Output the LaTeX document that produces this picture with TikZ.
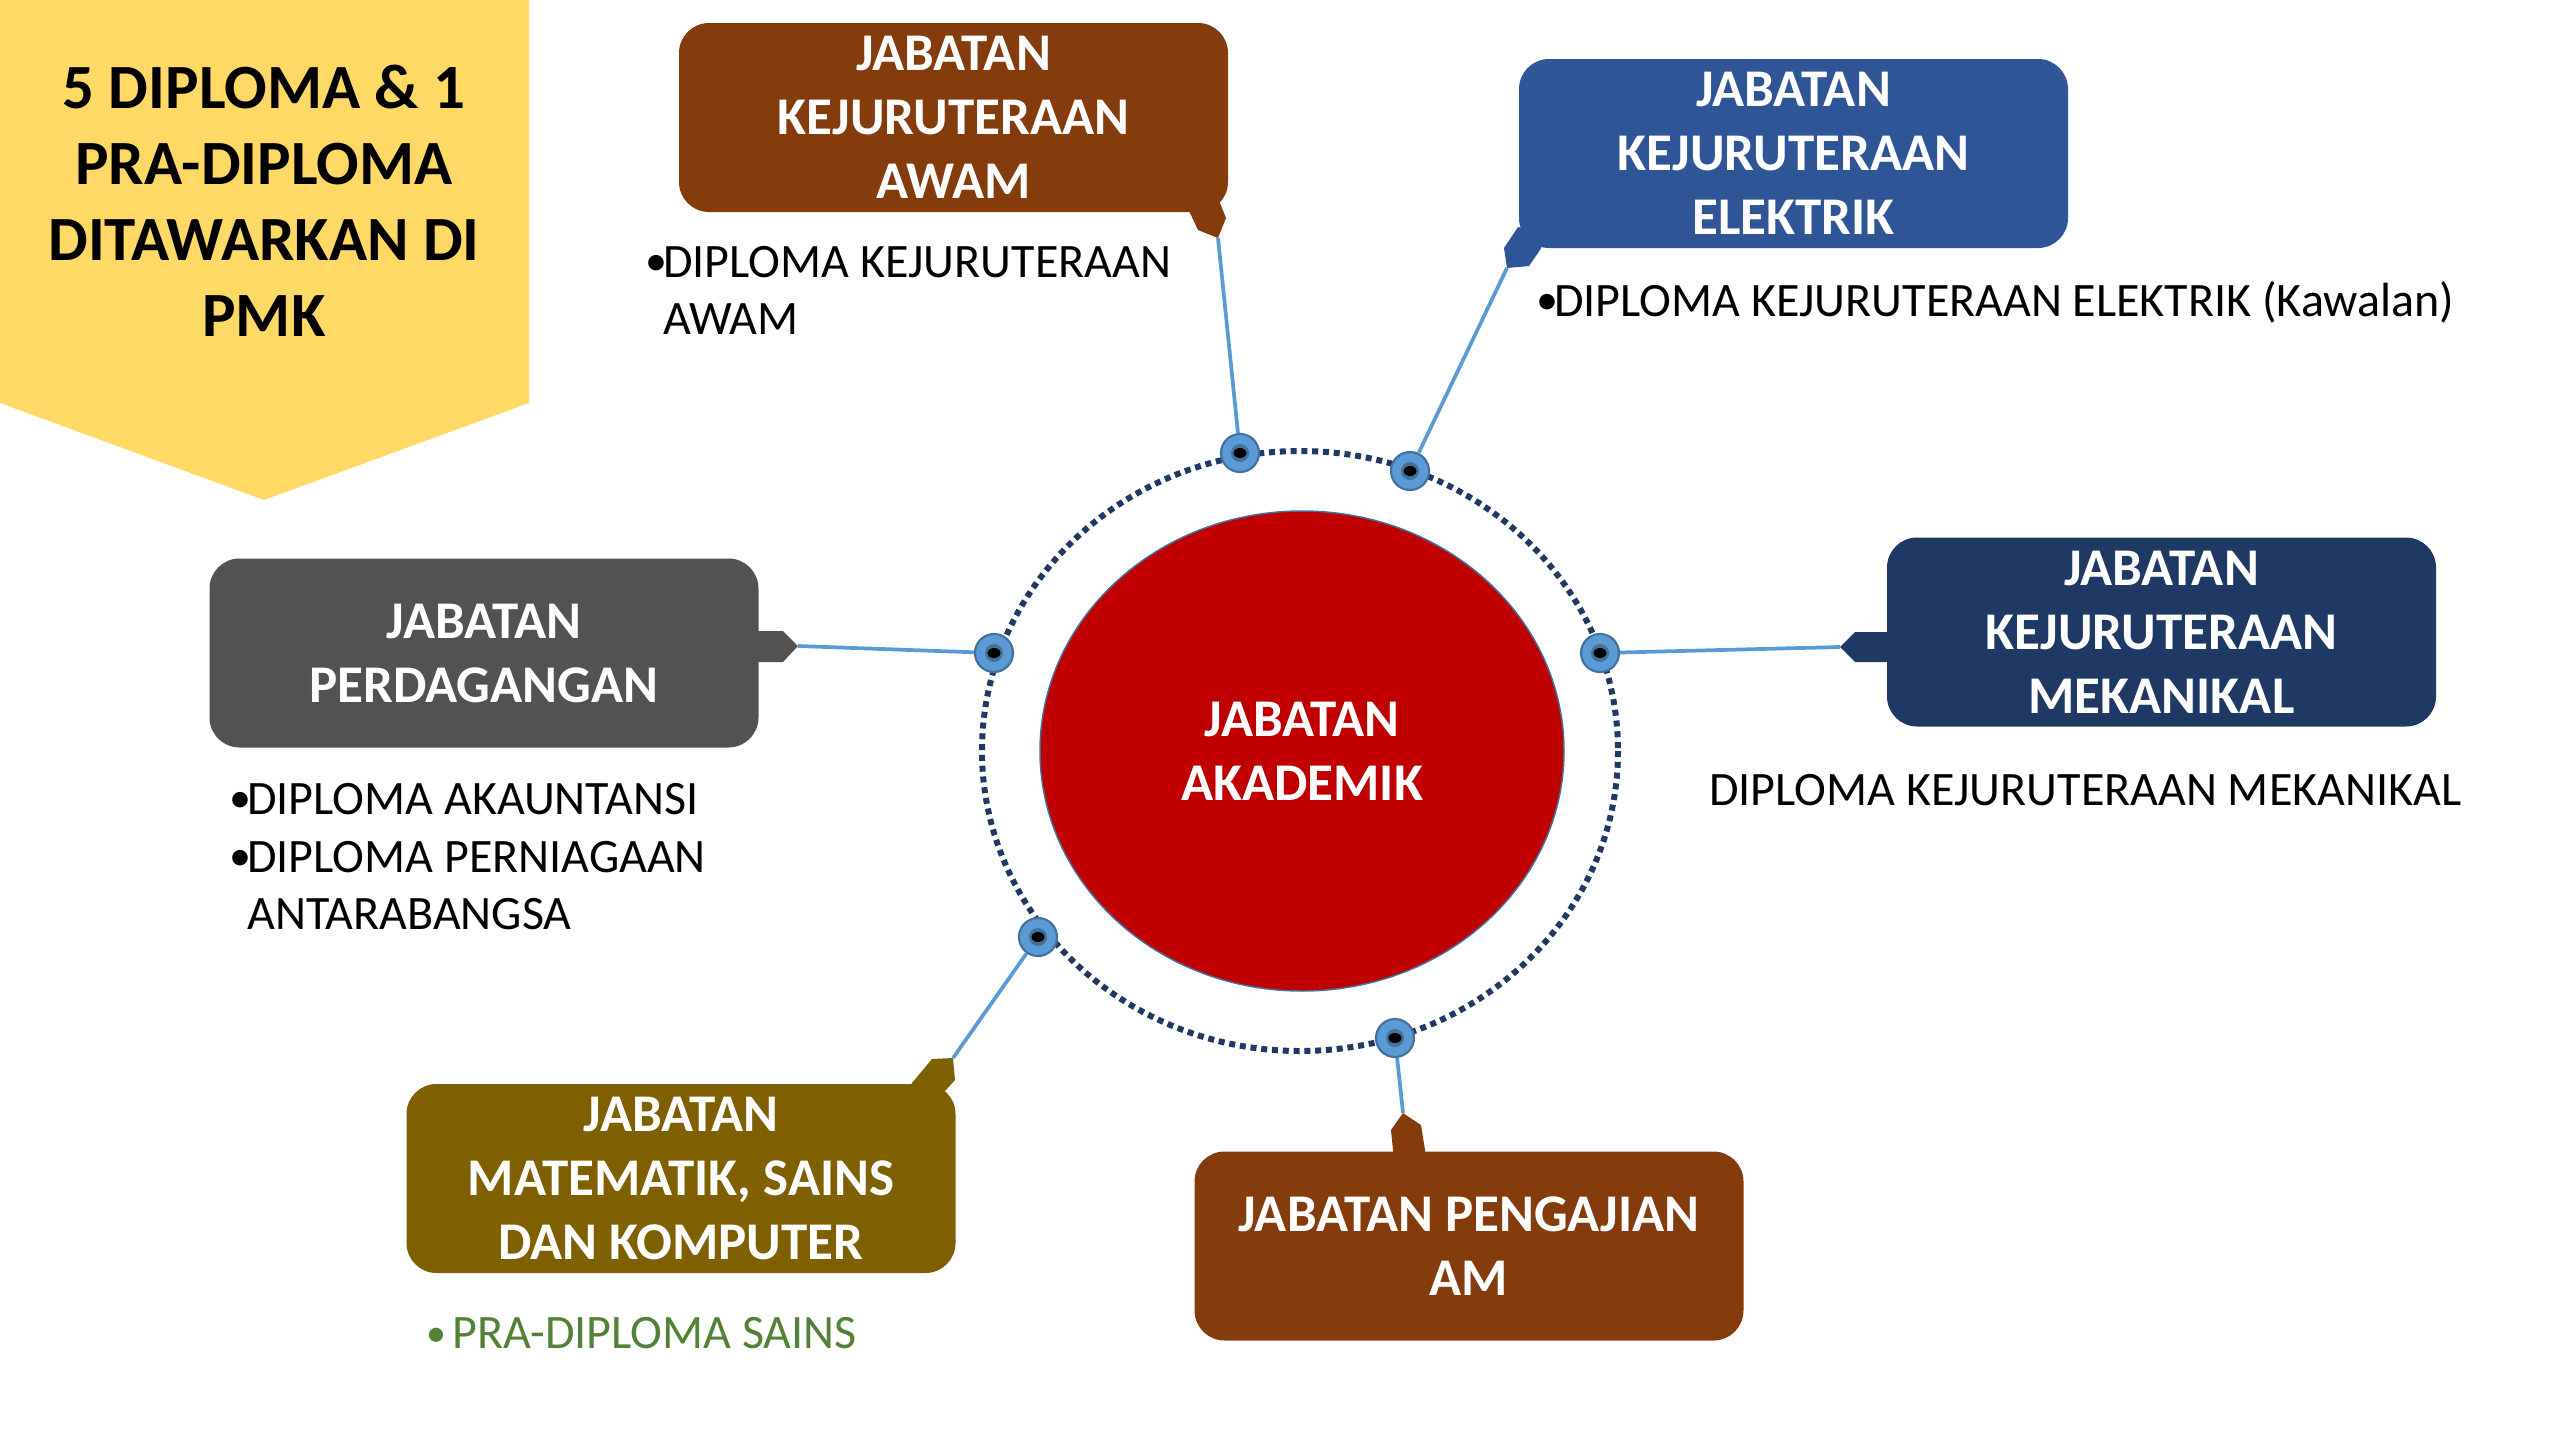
\documentclass[tikz,border=0pt]{standalone}
\usepackage{fontspec}
\setmainfont{Carlito}
\usetikzlibrary{shapes.geometric}

\definecolor{kuning}{HTML}{FFD966}
\definecolor{coklat}{HTML}{843C0C}
\definecolor{biru}{HTML}{2F5597}
\definecolor{biruTua}{HTML}{203864}
\definecolor{kelabu}{HTML}{525252}
\definecolor{zaitun}{HTML}{7F6000}
\definecolor{merah}{HTML}{C00000}
\definecolor{titik}{HTML}{5B9BD5}
\definecolor{titikTepi}{HTML}{41719C}
\definecolor{cincin}{HTML}{1F3864}
\definecolor{hijau}{HTML}{538135}

\newcommand{\poin}{\makebox[13.5pt][l]{\raisebox{1pt}{\fontsize{33}{36}\selectfont•}}}

\tikzset{
  jabatan/.style={rounded corners=22.5pt, inner sep=0pt, text=white, align=center,
    minimum width=411.75pt, minimum height=141.75pt,
    font=\bfseries\fontsize{39.75}{48}\selectfont},
  kursus/.style={anchor=base west, inner sep=0pt, font=\fontsize{36}{43}\selectfont},
  sambung/.style={draw=titik, line width=2.8pt},
  titikan/.style={circle, inner sep=0pt, minimum size=28.5pt, fill=titik, draw=titikTepi, line width=1.6pt},
  lingkar/.style={draw=cincin, line width=4.5pt, dash pattern=on 4.5pt off 3.6pt}
}

\begin{document}
\begin{tikzpicture}[x=0.75pt,y=0.75pt,yscale=-1,xscale=1]
		\useasboundingbox (0,0) rectangle (2560,1440);
		
		%Shape: Banner
		\fill[kuning] (0,0) -- (529,0) -- (529,403) -- (264,500) -- (0,403) -- cycle ;
		% Text Node
		\node[align=center, inner sep=0pt, font=\bfseries\fontsize{47.25}{57}\selectfont] (judul) at (264,201) {5 DIPLOMA \& 1\\PRA-DIPLOMA\\DITAWARKAN DI\\PMK};
		
		%Shape: Dotted ring and centre
		\node[ellipse, fill=merah, draw=titikTepi, line width=1.1pt, minimum width=393pt, minimum height=360pt, inner sep=0pt, text=white, align=center, font=\bfseries\fontsize{39.75}{48}\selectfont] (akademik) at (1302,751) {JABATAN\\AKADEMIK};
		\draw[lingkar] (1300,751) ellipse [x radius=318, y radius=300] ;
		
		%Shape: Department boxes
		\node[jabatan, fill=coklat] (awam) at (953.5,117.5) {JABATAN\\KEJURUTERAAN\\AWAM};
		\node[jabatan, fill=biru] (elektrik) at (1793.5,153.5) {JABATAN\\KEJURUTERAAN\\ELEKTRIK};
		\node[jabatan, fill=biruTua] (mekanikal) at (2161.5,632) {JABATAN\\KEJURUTERAAN\\MEKANIKAL};
		\node[jabatan, fill=kelabu] (perdagangan) at (484,653) {JABATAN\\PERDAGANGAN};
		\node[jabatan, fill=zaitun] (matematik) at (681,1178.5) {JABATAN\\MATEMATIK, SAINS\\DAN KOMPUTER};
		\node[jabatan, fill=coklat] (pengajian) at (1469,1246) {JABATAN PENGAJIAN\\AM};
		
		%Shape: Callout tabs
		\fill[coklat] (1185,200) -- (1190,213) -- (1198,230) -- (1218,238) -- (1226,218) -- (1220,203) -- (1210,190) -- cycle ;
		\fill[biru] (1530,230) -- (1518,227) -- (1504,248) -- (1507,268) -- (1529,266) -- (1540,250) -- (1545,240) -- cycle ;
		\fill[biruTua] (1895,632) -- (1855,632) -- (1840,647) -- (1855,662) -- (1895,662) -- cycle ;
		\fill[kelabu] (750,631) -- (783,631) -- (798,646) -- (783,662) -- (750,662) -- cycle ;
		\fill[zaitun] (905,1095) -- (912,1083) -- (932,1059) -- (953,1058) -- (955,1080) -- (945,1091) -- cycle ;
		\fill[coklat] (1393,1160) -- (1393,1150) -- (1391,1130) -- (1403,1113) -- (1421,1125) -- (1425,1150) -- (1425,1160) -- cycle ;
		\coordinate (hujungAwam) at (1218,238);
		\coordinate (hujungElektrik) at (1507,268);
		\coordinate (hujungMekanikal) at (1840,647);
		\coordinate (hujungPerdagangan) at (798,646);
		\coordinate (hujungMatematik) at (953,1058);
		\coordinate (hujungPengajian) at (1403,1113);
		
		%Shape: Ring points
		\node[titikan] (tAwam) at (1240,453) {};
		\node[titikan] (tElektrik) at (1410,471) {};
		\node[titikan] (tMekanikal) at (1600,653) {};
		\node[titikan] (tPerdagangan) at (994,653) {};
		\node[titikan] (tMatematik) at (1038,937) {};
		\node[titikan] (tPengajian) at (1395,1038) {};
		\foreach \t in {tAwam,tElektrik,tMekanikal,tPerdagangan,tMatematik,tPengajian}{
			\fill[titikTepi] (\t.center) circle (9) ;
			\fill[black] (\t.center) ellipse [x radius=6.5, y radius=5] ;
		}
		
		%Straight Lines
		\draw[sambung] (hujungAwam) -- (tAwam) ;
		\draw[sambung] (hujungElektrik) -- (tElektrik) ;
		\draw[sambung] (hujungMekanikal) -- (tMekanikal) ;
		\draw[sambung] (hujungPerdagangan) -- (tPerdagangan) ;
		\draw[sambung] (hujungMatematik) -- (tMatematik) ;
		\draw[sambung] (hujungPengajian) -- (tPengajian) ;
		
		% Text Node
		\node[kursus] (awamA) at (645,277) {\poin DIPLOMA KEJURUTERAAN};
		% Text Node
		\node[kursus] (awamB) at (663,334) {AWAM};
		% Text Node
		\node[kursus] (elektrikA) at (1536,316) {\poin DIPLOMA KEJURUTERAAN ELEKTRIK (Kawalan)};
		% Text Node
		\node[kursus] (mekanikalA) at (1709,805) {DIPLOMA KEJURUTERAAN MEKANIKAL};
		% Text Node
		\node[kursus] (perdaganganA) at (229,814) {\poin DIPLOMA AKAUNTANSI};
		% Text Node
		\node[kursus] (perdaganganB) at (229,872) {\poin DIPLOMA PERNIAGAAN};
		% Text Node
		\node[kursus] (perdaganganC) at (247,929) {ANTARABANGSA};
		% Text Node
		\node[kursus, text=hijau] (sainsA) at (426,1348) {\makebox[19.5pt][l]{\raisebox{1pt}{\fontsize{30}{36}\selectfont•}}PRA-DIPLOMA SAINS};
	\end{tikzpicture}
\end{document}
